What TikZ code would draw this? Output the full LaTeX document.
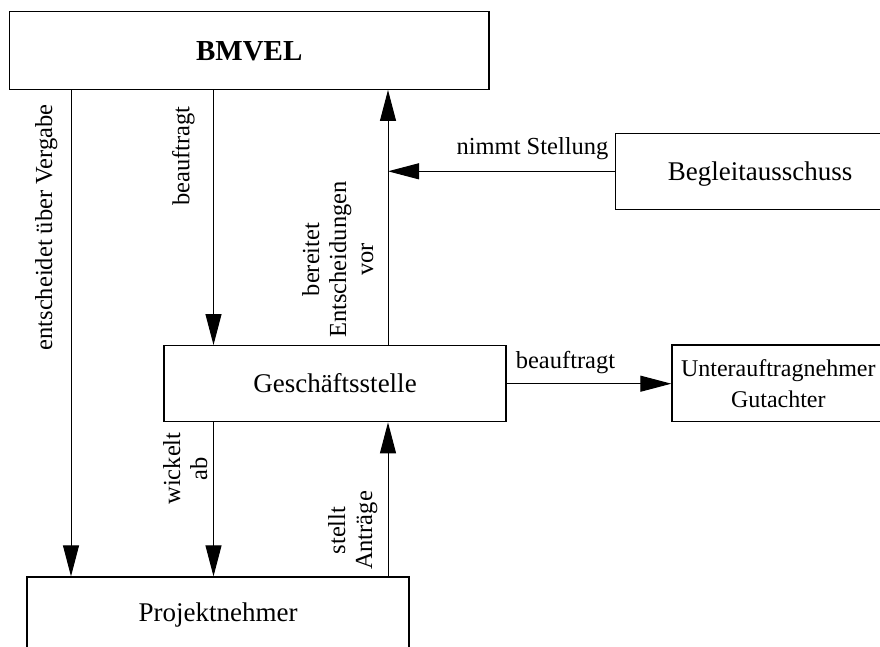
\documentclass[tikz,border=0pt]{standalone}
\usepackage{fontspec}
\setmainfont{Liberation Serif}
\usetikzlibrary{arrows.meta}
\tikzset{
  box/.style={draw=black, line width=1.3pt, inner sep=0pt, fill=white},
  boxfont/.style={font=\fontsize{27pt}{30pt}\selectfont, text height=18.5pt, text depth=0.7pt},
  lbl/.style={inner sep=0pt, font=\fontsize{24.5pt}{27pt}\selectfont},
  vlbl/.style={lbl, rotate=90, anchor=north, align=center},
  arr/.style={line width=1pt, -{Triangle[length=31pt,width=16pt]}}
}
\begin{document}
\begin{tikzpicture}[x=1pt,y=-1pt]
\useasboundingbox (0,0) rectangle (880,647);
\clip (0,0) rectangle (880,647);
% boxes
\node[box, minimum width=479.5pt, minimum height=77.6pt,
      font=\fontsize{29pt}{32pt}\selectfont\bfseries, text height=20pt, text depth=0.4pt]
      (bmvel) at (249.25,50.5) {BMVEL};
\node[box, boxfont, minimum width=288.6pt, minimum height=76pt] (begl) at (760,171.3) {Begleitausschuss};
\node[box, boxfont, minimum width=342pt, minimum height=76pt] (gs) at (335,383.7) {Geschäftsstelle};
\node[box, font=\fontsize{24pt}{31pt}\selectfont, align=center, minimum width=212.6pt, minimum height=76.7pt]
      (unter) at (778.3,383.35) {Unterauftragnehmer\\Gutachter};
\node[box, boxfont, minimum width=382pt, minimum height=72pt] (proj) at (218,613) {Projektnehmer};
% guide coordinates for vertical connectors
\coordinate (xa) at (71,0);
\coordinate (xb) at (213.5,0);
\coordinate (xc) at (388,0);
% connectors
\draw[arr] (bmvel.south -| xa) -- (proj.north -| xa);
\draw[arr] (bmvel.south -| xb) -- (gs.north -| xb);
\draw[arr] (gs.north -| xc) -- (bmvel.south -| xc);
\draw[arr] (begl.west) -- (begl.west -| xc);
\draw[arr] (gs.east) -- (gs.east -| unter.west);
\draw[arr] (gs.south -| xb) -- (proj.north -| xb);
\draw[arr] (proj.north -| xc) -- (gs.south -| xc);
% labels
\node[vlbl] (l1) at (35,227.5) {entscheidet über Vergabe};
\node[vlbl] (l2) at (172,156) {beauftragt};
\node[vlbl] (l3) at (302,259.5) {bereitet\\Entscheidungen\\vor};
\node[vlbl] (l4) at (163,468.5) {wickelt\\ab};
\node[vlbl] (l5) at (328,530.5) {stellt\\Anträge};
\node[lbl, anchor=base] (l6) at (532.5,155) {nimmt Stellung};
\node[lbl, anchor=base] (l7) at (565.5,368) {beauftragt};
\end{tikzpicture}
\end{document}
